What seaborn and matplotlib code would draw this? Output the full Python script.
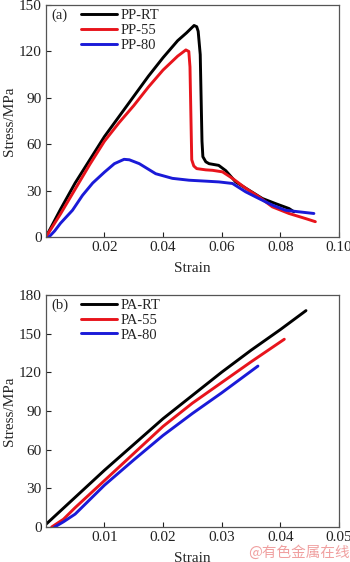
import matplotlib
matplotlib.use("Agg")
import matplotlib.pyplot as plt
import seaborn as sns
import pandas as pd
import numpy as np

# panel (a): PP samples
pp_rt_strain = [0.0, 0.005, 0.01, 0.015, 0.02, 0.025, 0.03, 0.035, 0.04, 0.045, 0.048, 0.0506,
                0.0515, 0.052, 0.0527, 0.053, 0.0533, 0.0536, 0.0546, 0.0557, 0.059, 0.0614,
                0.0648, 0.0693, 0.0739, 0.0784, 0.083, 0.0847]
pp_rt_stress = [0, 18, 35, 50, 65, 78, 91, 104, 116, 127, 132, 136.8,
                136, 133, 118, 90, 62, 52, 48.7, 47.5, 46.4, 43,
                35.7, 30.4, 25, 21.7, 18.5, 16.4]

pp_55_strain = [0.0, 0.005, 0.01, 0.015, 0.02, 0.025, 0.03, 0.035, 0.04, 0.045, 0.0478, 0.0488,
                0.0492, 0.0495, 0.0498, 0.0505, 0.0515, 0.0546, 0.0569, 0.0603, 0.0637, 0.0683,
                0.0728, 0.0773, 0.083, 0.0887, 0.092]
pp_55_stress = [0, 15, 31, 47, 62, 74, 85, 97, 108, 117, 121, 120,
                110, 80, 50, 46, 44.3, 43.5, 43.2, 42.2, 38, 31.5,
                26, 19.6, 15.3, 12, 10]

pp_80_strain = [0.001, 0.003, 0.005, 0.0091, 0.0125, 0.016, 0.02, 0.0234, 0.0267, 0.0285, 0.0319,
                0.0375, 0.0432, 0.0489, 0.0546, 0.0591, 0.0637, 0.0682, 0.0727, 0.0773, 0.0818,
                0.0863, 0.0915]
pp_80_stress = [0, 4, 9, 17.4, 27, 35, 42, 47.5, 50.3, 50, 47.5,
                41, 38, 36.8, 36.2, 35.7, 34.7, 29.3, 25, 20.7, 17.4,
                16.4, 15.3]

# panel (b): PA samples
pa_rt_strain = [0.0, 0.005, 0.01, 0.015, 0.02, 0.025, 0.03, 0.035, 0.04, 0.0444]
pa_rt_stress = [2, 23, 44, 64, 84, 102, 120, 137, 153, 167.8]

pa_55_strain = [0.001, 0.003, 0.005, 0.01, 0.015, 0.02, 0.025, 0.03, 0.035, 0.0407]
pa_55_stress = [0, 6, 15, 36, 57, 78, 96, 112, 128, 145.6]

pa_80_strain = [0.0015, 0.003, 0.005, 0.01, 0.015, 0.02, 0.025, 0.03, 0.0362]
pa_80_stress = [0, 4, 10, 32.4, 52, 71, 88, 104, 124.8]

pp_labels = ["PP-RT", "PP-55", "PP-80"]
pa_labels = ["PA-RT", "PA-55", "PA-80"]
colors = ["black", "#e8141c", "#1a1ad8"]

a_xticks = [0.02, 0.04, 0.06, 0.08, 0.10]
a_xticklabels = ["0.02", "0.04", "0.06", "0.08", "0.10"]
a_yticks = [0, 30, 60, 90, 120, 150]
b_xticks = [0.01, 0.02, 0.03, 0.04, 0.05]
b_xticklabels = ["0.01", "0.02", "0.03", "0.04", "0.05"]
b_yticks = [0, 30, 60, 90, 120, 150, 180]

sns.set_style("ticks")
plt.rcParams["font.family"] = ["Liberation Serif", "DejaVu Serif"]
plt.rcParams["font.size"] = 11

fig = plt.figure(figsize=(3.5, 5.62), dpi=100)
ax1 = fig.add_axes([0.131, 0.578, 0.837, 0.413])
ax2 = fig.add_axes([0.131, 0.0623, 0.837, 0.413])


def draw_panel(ax, series, labels, xticks, xticklabels, yticks, xmax, ymax, tag):
    for (x, y), lab, c in zip(series, labels, colors):
        sns.lineplot(x=x, y=y, ax=ax, color=c, lw=2.1, label=lab, sort=False, estimator=None)
    ax.set_xlim(0, xmax)
    ax.set_ylim(0, ymax)
    ax.set_xticks(xticks)
    ax.set_xticklabels(xticklabels)
    ax.set_yticks(yticks)
    ax.tick_params(direction="in", length=3.5, width=0.8, labelsize=11, colors="#222222",
                   pad=3)
    for s in ax.spines.values():
        s.set_color("#555555")
        s.set_linewidth(0.9)
    ax.set_xlabel("Strain", fontsize=11, labelpad=5.5)
    ax.set_ylabel("Stress/MPa", fontsize=11, labelpad=2)
    ax.legend(loc="upper left", bbox_to_anchor=(0.09, 1.02), frameon=False, fontsize=10.5,
              handlelength=2.5, handletextpad=0.25, labelspacing=0.1, borderaxespad=0.2)
    ax.text(0.02, 0.955, tag, transform=ax.transAxes, fontsize=10.5, va="center", ha="left")


draw_panel(ax1, [(pp_rt_strain, pp_rt_stress), (pp_55_strain, pp_55_stress), (pp_80_strain, pp_80_stress)],
           pp_labels, a_xticks, a_xticklabels, a_yticks, 0.1, 150, "(a)")
draw_panel(ax2, [(pa_rt_strain, pa_rt_stress), (pa_55_strain, pa_55_stress), (pa_80_strain, pa_80_stress)],
           pa_labels, b_xticks, b_xticklabels, b_yticks, 0.05, 180, "(b)")

fig.text(0.998, 0.016, "@有色金属在线", ha="right", va="center", fontsize=10.5, color="#f0a0a0",
         family=["Noto Sans CJK SC", "DejaVu Sans"])

fig.savefig("out.png", dpi=100)
